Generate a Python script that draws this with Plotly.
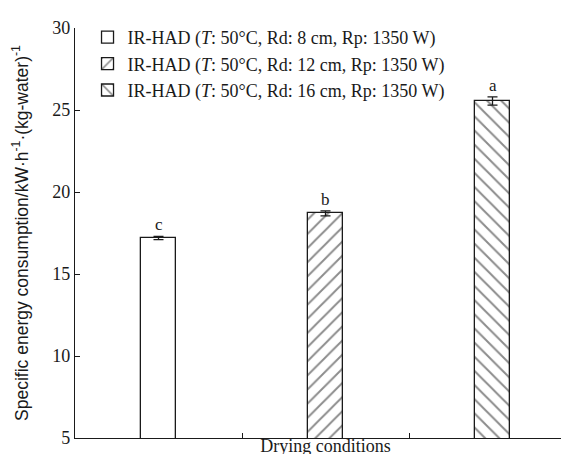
import plotly.graph_objects as go

categories = ["8 cm", "12 cm", "16 cm"]
series_names = [
    "IR-HAD (<i>T</i>: 50°C, Rd: 8 cm, Rp: 1350 W)",
    "IR-HAD (<i>T</i>: 50°C, Rd: 12 cm, Rp: 1350 W)",
    "IR-HAD (<i>T</i>: 50°C, Rd: 16 cm, Rp: 1350 W)",
]
values = [17.2, 18.7, 25.55]
errors = [0.1, 0.15, 0.25]
letters = ["c", "b", "a"]
patterns = ["", "/", "\\"]
y_ticks = [5, 10, 15, 20, 25, 30]

SERIF = "Liberation Serif, Times New Roman, serif"
SANS = "Liberation Sans, Arial, sans-serif"
INK = "#1a1a1a"

fig = go.Figure()
for i, cat in enumerate(categories):
    fig.add_trace(go.Bar(
        x=[cat], y=[values[i]], name=series_names[i], width=0.21,
        marker=dict(color="white", line=dict(color=INK, width=1.3),
                    pattern=dict(shape=patterns[i], fgcolor=INK, bgcolor="white",
                                 size=10, solidity=0.2)),
        error_y=dict(type="data", array=[errors[i]], color=INK, thickness=1.3, width=5),
    ))
    fig.add_annotation(x=cat, y=values[i] + errors[i], text=letters[i], showarrow=False,
                       yanchor="bottom", yshift=0, font=dict(family=SERIF, size=17, color=INK))

fig.update_layout(
    width=569, height=454,
    margin=dict(l=67, r=1, t=20, b=24),
    plot_bgcolor="white", paper_bgcolor="white",
    barmode="overlay", bargap=0,
    showlegend=True,
    legend=dict(x=0.025, y=1.022, xanchor="left", yanchor="top",
                font=dict(family=SERIF, size=18, color=INK),
                bgcolor="rgba(0,0,0,0)", tracegroupgap=0, itemwidth=30,
                traceorder="normal"),
    xaxis=dict(type="category", range=[-0.5, 2.5], showline=True, linecolor=INK,
               linewidth=1.3, ticks="inside", tickson="boundaries", ticklen=5,
               tickcolor=INK, showticklabels=False, showgrid=False, zeroline=False,
               title=dict(text="Drying conditions", standoff=1,
                          font=dict(family=SERIF, size=18, color=INK))),
    yaxis=dict(range=[5, 30], tickvals=y_ticks, showline=True, linecolor=INK,
               linewidth=1.3, ticks="inside", ticklen=5, tickcolor=INK,
               showgrid=False, zeroline=False,
               tickfont=dict(family=SERIF, size=18, color=INK),
               title=dict(text="Specific energy consumption/kW·h<sup>-1</sup>·(kg-water)<sup>-1</sup>",
                          standoff=19, font=dict(family=SANS, size=17.5, color=INK))),
)

fig.write_html("out.html")
